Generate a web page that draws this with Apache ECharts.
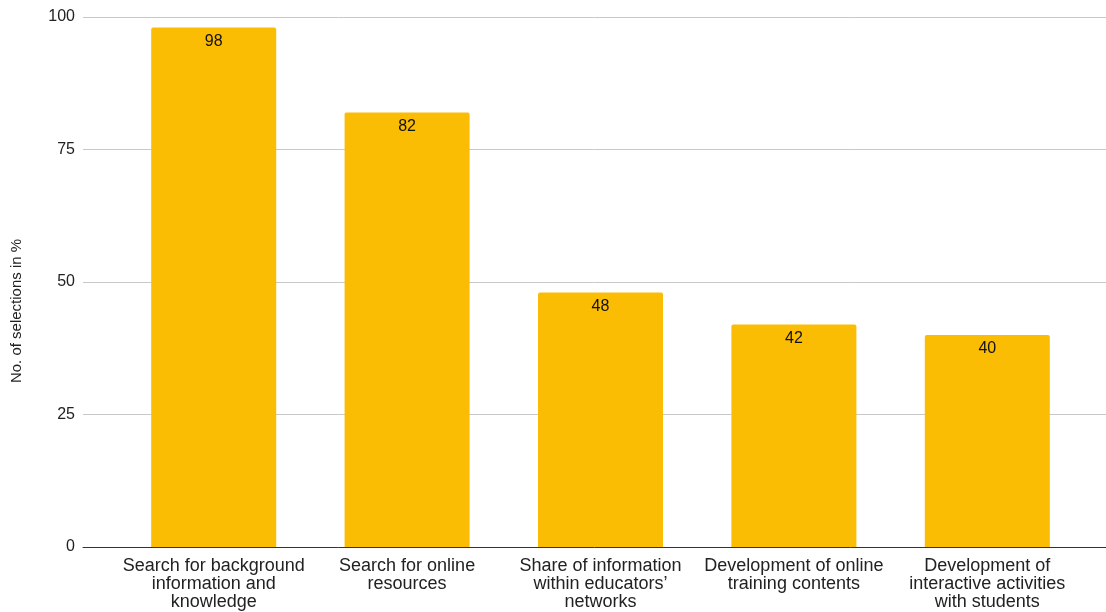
<!DOCTYPE html>
<html>
<head>
<meta charset="utf-8">
<script src="https://cdn.jsdelivr.net/npm/echarts@6/dist/echarts.min.js"></script>
<style>
  html, body { margin: 0; padding: 0; background: #fff; }
  #chart { width: 1106px; height: 612px; }
</style>
</head>
<body>
<div id="chart"></div>
<script>
const categories = [
  'Search for background\ninformation and\nknowledge',
  'Search for online\nresources',
  'Share of information\nwithin educators\u2019\nnetworks',
  'Development of online\ntraining contents',
  'Development of\ninteractive activities\nwith students'
];
const selections = [98, 82, 48, 42, 40];
const yTicks = [0, 25, 50, 75, 100];

const chart = echarts.init(document.getElementById('chart'));
const font = 'Liberation Sans, Arial, sans-serif';

chart.setOption({
  animation: false,
  grid: [
    // frame carrying the value gridlines and the baseline
    { left: 83, right: 0, top: 17, bottom: 65 },
    // bars and category labels
    { left: 117, right: 22, top: 17, bottom: 65 }
  ],
  xAxis: [
    {
      gridIndex: 0, type: 'value', min: 0, max: 1,
      axisLine: { show: true, onZero: false, lineStyle: { color: '#333', width: 1 } },
      axisTick: { show: false }, axisLabel: { show: false }, splitLine: { show: false }
    },
    {
      gridIndex: 1, type: 'category', data: categories,
      axisLine: { show: false }, axisTick: { show: false },
      axisLabel: {
        interval: 0, margin: 10, color: '#222',
        fontFamily: font, fontSize: 18, lineHeight: 18
      }
    }
  ],
  yAxis: [
    {
      gridIndex: 0, type: 'value', min: 0, max: 100, interval: 25,
      axisLine: { show: false }, axisTick: { show: false },
      axisLabel: {
        margin: 8, color: '#222', fontFamily: font, fontSize: 16,
        formatter: v => yTicks.includes(v) ? String(v) : ''
      },
      splitLine: { lineStyle: { color: '#c8c8c8', width: 1 } }
    },
    {
      gridIndex: 1, type: 'value', min: 0, max: 100,
      axisLine: { show: false }, axisTick: { show: false },
      axisLabel: { show: false }, splitLine: { show: false }
    }
  ],
  graphic: [{
    type: 'text',
    x: 17, y: 311, rotation: Math.PI / 2,
    style: {
      text: 'No. of selections in %',
      fill: '#222', font: '15px ' + font,
      align: 'center', verticalAlign: 'middle'
    }
  }],
  series: [{
    type: 'bar',
    xAxisIndex: 1, yAxisIndex: 1,
    data: selections,
    barWidth: 125,
    itemStyle: { color: '#fbbc04', borderRadius: [2, 2, 0, 0] },
    label: {
      show: true, position: 'insideTop', distance: 6,
      color: '#111', fontFamily: font, fontSize: 16
    },
    z: 3
  }]
});
</script>
</body>
</html>
